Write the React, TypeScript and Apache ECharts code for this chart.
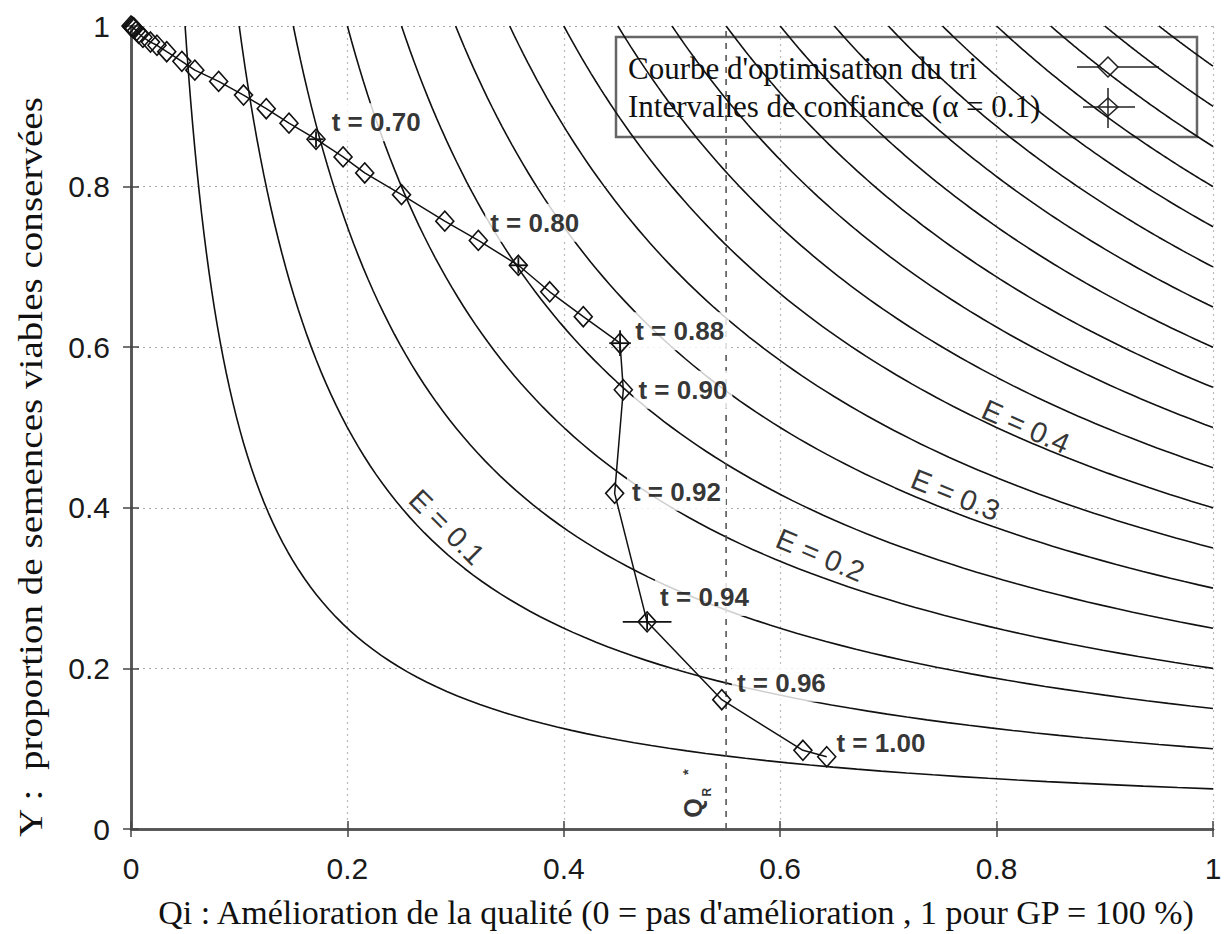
import React, { useEffect, useRef } from "react";
import * as echarts from "echarts";

// ---- Data ----
// Sorting optimisation curve (Qi, Y)
const qiValues = [0, 0.001, 0.002, 0.003, 0.005, 0.007, 0.011, 0.018, 0.024, 0.033, 0.047, 0.059, 0.081, 0.104, 0.125, 0.146, 0.171, 0.196, 0.216, 0.25, 0.29, 0.321, 0.358, 0.387, 0.418, 0.452, 0.455, 0.447, 0.477, 0.546, 0.621, 0.643];
const yValues = [1.0, 0.999, 0.998, 0.997, 0.994, 0.991, 0.986, 0.98, 0.976, 0.968, 0.956, 0.945, 0.931, 0.914, 0.897, 0.879, 0.859, 0.837, 0.817, 0.79, 0.757, 0.733, 0.702, 0.669, 0.638, 0.605, 0.547, 0.418, 0.258, 0.161, 0.098, 0.09];

// Confidence intervals: centre Q, centre Y, half-width in Q, half-height in Y
const ciQ = [0.171, 0.358, 0.452, 0.477];
const ciY = [0.859, 0.702, 0.605, 0.258];
const ciHalfQ = [0.007, 0.008, 0.01, 0.0225];
const ciHalfY = [0.01, 0.01, 0.016, 0.01];

// t annotations (left edge Q, centre Y)
const tLabels = ["t = 0.70", "t = 0.80", "t = 0.88", "t = 0.90", "t = 0.92", "t = 0.94", "t = 0.96", "t = 1.00"];
const tLabelQ = [0.1855, 0.332, 0.466, 0.469, 0.463, 0.489, 0.56, 0.652];
const tLabelY = [0.88, 0.755, 0.62, 0.547, 0.42, 0.289, 0.182, 0.107];

// Iso-efficiency levels E = Qi * Y
const eLevels = [0.05, 0.1, 0.15, 0.2, 0.25, 0.3, 0.35, 0.4, 0.45, 0.5, 0.55, 0.6, 0.65, 0.7, 0.75, 0.8, 0.85, 0.9, 0.95];
const eLabels = ["E = 0.1", "E = 0.2", "E = 0.3", "E = 0.4"];
const eLabelQ = [0.292, 0.637, 0.762, 0.827];
const eLabelY = [0.376, 0.341, 0.416, 0.501];
const eLabelAngle = [-45, -23, -22, -24];

const qrStar = 0.55;

const X_TITLE = "Qi : Amélioration de la qualité (0 = pas d'amélioration , 1 pour GP = 100 %)";
const Y_TITLE = "Y :  proportion de semences viables conservées";
const LEGEND_1 = "Courbe d'optimisation du tri";
const LEGEND_2 = "Intervalles de confiance (α = 0.1)";

function isoCurve(c: number): number[][] {
  const pts: number[][] = [];
  const n = 90;
  for (let i = 0; i <= n; i++) {
    const q = c * Math.pow(1 / c, i / n);
    pts.push([q, c / q]);
  }
  return pts;
}

export default function App() {
  const ref = useRef<HTMLDivElement>(null);

  useEffect(() => {
    if (!ref.current) return;
    const chart = echarts.init(ref.current, null, { renderer: "svg" });

    const contourSeries = eLevels.map((c) => ({
      type: "line",
      data: isoCurve(c),
      showSymbol: false,
      symbol: "none",
      silent: true,
      z: 2,
      lineStyle: { color: "#111", width: 1.6 },
    }));

    const serif = "'Liberation Serif', 'Times New Roman', serif";
    const sans = "'Liberation Sans', Arial, Helvetica, sans-serif";

    const option: any = {
      animation: false,
      backgroundColor: "#fff",
      grid: { left: 131, top: 26, width: 1082, height: 803, show: false },
      xAxis: [
        {
          type: "value",
          min: 0,
          max: 1,
          interval: 0.2,
          axisLine: { show: true, lineStyle: { color: "#444", width: 2.5 } },
          axisTick: { show: true, inside: true, length: 8, lineStyle: { color: "#444", width: 1.5 } },
          axisLabel: { fontFamily: sans, fontSize: 30, color: "#1a1a1a", margin: 24 },
          splitLine: { show: true, lineStyle: { color: "#bbb", type: [2, 4], width: 1.2 } },
        },
        {
          type: "value",
          position: "top",
          min: 0,
          max: 1,
          interval: 0.2,
          axisLine: { show: true, lineStyle: { color: "#555", width: 2.5 } },
          axisTick: { show: true, inside: true, length: 8, lineStyle: { color: "#444", width: 1.5 } },
          axisLabel: { show: false },
          splitLine: { show: false },
        },
      ],
      yAxis: [
        {
          type: "value",
          min: 0,
          max: 1,
          interval: 0.2,
          axisLine: { show: true, lineStyle: { color: "#444", width: 2.5 } },
          axisTick: { show: true, inside: true, length: 8, lineStyle: { color: "#444", width: 1.5 } },
          axisLabel: { fontFamily: sans, fontSize: 30, color: "#1a1a1a", margin: 21 },
          splitLine: { show: true, lineStyle: { color: "#aaa", type: [2, 4], width: 1.2 } },
        },
        {
          type: "value",
          position: "right",
          min: 0,
          max: 1,
          interval: 0.2,
          axisLine: { show: true, lineStyle: { color: "#555", width: 2.5 } },
          axisTick: { show: true, inside: true, length: 8, lineStyle: { color: "#444", width: 1.5 } },
          axisLabel: { show: false },
          splitLine: { show: false },
        },
      ],
      series: [
        ...contourSeries,
        {
          // Q_R* dashed reference line
          type: "line",
          data: [
            [qrStar, 0],
            [qrStar, 1],
          ],
          showSymbol: false,
          symbol: "none",
          silent: true,
          z: 2,
          lineStyle: { color: "#555", width: 1.6, type: [6, 6] },
        },
        {
          // t annotations with white boxes
          type: "scatter",
          z: 3,
          symbolSize: 0,
          silent: true,
          data: tLabels.map((t, i) => ({ value: [tLabelQ[i], tLabelY[i]], name: t })),
          label: {
            show: true,
            position: "right",
            distance: 0,
            offset: [-5, 0],
            formatter: (p: any) => p.name,
            fontFamily: sans,
            fontWeight: "bold",
            fontSize: 26,
            color: "#000",
            textBorderWidth: 0,
            backgroundColor: "#fff",
            padding: [5, 5, 7, 5],
          },
        },
        {
          // E labels along iso-curves
          type: "scatter",
          z: 3,
          symbolSize: 0,
          silent: true,
          data: eLabels.map((t, i) => ({
            value: [eLabelQ[i], eLabelY[i]],
            name: t,
            label: { rotate: eLabelAngle[i] },
          })),
          label: {
            show: true,
            position: "inside",
            formatter: (p: any) => p.name,
            fontFamily: sans,
            fontSize: 29,
            color: "#000",
            textBorderWidth: 0,
          },
        },
        {
          // Q_R* text
          type: "scatter",
          z: 3,
          symbolSize: 0,
          silent: true,
          data: [
            { value: [0.519, 0.026], name: "Q", label: { fontSize: 25 } },
            { value: [0.532, 0.046], name: "R", label: { fontSize: 12 } },
            { value: [0.514, 0.071], name: "*", label: { fontSize: 15 } },
          ],
          label: {
            show: true,
            position: "inside",
            rotate: 90,
            formatter: (p: any) => p.name,
            fontFamily: sans,
            fontWeight: "bold",
            color: "#000",
            textBorderWidth: 0,
          },
        },
        {
          name: "Courbe",
          type: "line",
          z: 5,
          data: qiValues.map((q, i) => [q, yValues[i]]),
          symbol: "diamond",
          symbolSize: [18, 20],
          showAllSymbol: true,
          lineStyle: { color: "#111", width: 1.5 },
          itemStyle: { color: "rgba(0,0,0,0)", borderColor: "#111", borderWidth: 1.6 },
        },
        {
          name: "IC",
          type: "custom",
          z: 6,
          data: ciQ.map((q, i) => [q, ciY[i], ciHalfQ[i], ciHalfY[i]]),
          encode: { x: 0, y: 1 },
          renderItem: (params: any, api: any) => {
            const q = api.value(0);
            const y = api.value(1);
            const dq = api.value(2);
            const dy = api.value(3);
            const a = api.coord([q - dq, y]);
            const b = api.coord([q + dq, y]);
            const c = api.coord([q, y - dy]);
            const d = api.coord([q, y + dy]);
            const st = { stroke: "#111", lineWidth: 1.8 };
            return {
              type: "group",
              children: [
                { type: "line", shape: { x1: a[0], y1: a[1], x2: b[0], y2: b[1] }, style: st },
                { type: "line", shape: { x1: c[0], y1: c[1], x2: d[0], y2: d[1] }, style: st },
              ],
            };
          },
        },
      ],
      graphic: [
        {
          type: "text",
          x: 676,
          y: 912,
          style: {
            text: X_TITLE,
            font: `34px ${serif}`,
            fill: "#111",
            textAlign: "center",
            align: "center",
            textVerticalAlign: "middle",
            verticalAlign: "middle",
          },
        },
        {
          type: "text",
          x: 30,
          y: 467,
          rotation: Math.PI / 2,
          scaleX: 1.15,
          style: {
            text: Y_TITLE,
            font: `34px ${serif}`,
            fill: "#111",
            textAlign: "center",
            align: "center",
            textVerticalAlign: "middle",
            verticalAlign: "middle",
          },
        },
        {
          type: "group",
          z: 100,
          children: [
            {
              type: "rect",
              shape: { x: 616, y: 37, width: 581, height: 100 },
              style: { fill: "#fff", stroke: "#666", lineWidth: 2.5 },
            },
            {
              type: "text",
              x: 628,
              y: 68,
              style: {
                text: LEGEND_1,
                font: `31px ${serif}`,
                fill: "#111",
                textVerticalAlign: "middle",
                verticalAlign: "middle",
              },
            },
            {
              type: "text",
              x: 628,
              y: 106,
              style: {
                text: LEGEND_2,
                font: `31px ${serif}`,
                fill: "#111",
                textVerticalAlign: "middle",
                verticalAlign: "middle",
              },
            },
            {
              type: "line",
              shape: { x1: 1077, y1: 67, x2: 1159, y2: 67 },
              style: { stroke: "#222", lineWidth: 1.5 },
            },
            {
              type: "polygon",
              shape: { points: [[1108, 57], [1118, 67], [1108, 77], [1098, 67]] },
              style: { fill: "#fff", stroke: "#222", lineWidth: 1.5 },
            },
            {
              type: "line",
              shape: { x1: 1083, y1: 107, x2: 1135, y2: 107 },
              style: { stroke: "#222", lineWidth: 1.5 },
            },
            {
              type: "polygon",
              shape: { points: [[1108, 98], [1118, 107], [1108, 116], [1098, 107]] },
              style: { fill: "none", stroke: "#222", lineWidth: 1.5 },
            },
            {
              type: "line",
              shape: { x1: 1108, y1: 88, x2: 1108, y2: 128 },
              style: { stroke: "#222", lineWidth: 1.5 },
            },
          ],
        },
      ],
    };

    chart.setOption(option);
    return () => {
      chart.dispose();
    };
  }, []);

  return (
    <div
      ref={ref}
      style={{ position: "fixed", left: 0, top: 0, width: "1229px", height: "934px", background: "#fff" }}
    />
  );
}
